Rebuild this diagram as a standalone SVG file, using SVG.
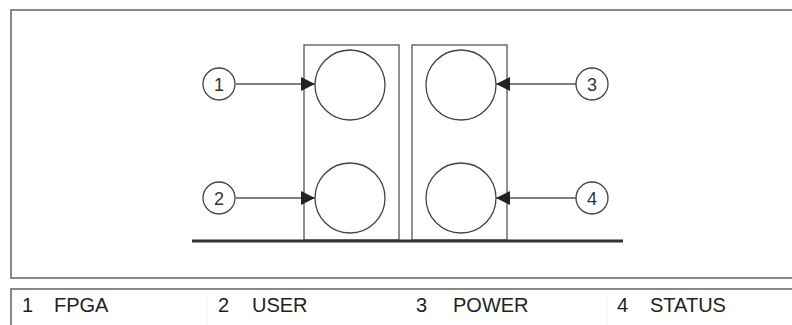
<svg xmlns="http://www.w3.org/2000/svg" width="792" height="325" viewBox="0 0 792 325">
<style>
.frame{fill:none;stroke:#6a6a6a;stroke-width:1.6}
.box{fill:#fff;stroke:#555;stroke-width:1.3}
.led{fill:#fff;stroke:#444;stroke-width:1.3}
.callout{fill:#fff;stroke:#444;stroke-width:1.3}
.conn{stroke:#555;stroke-width:1.3;fill:none}
.num{font-family:"Liberation Sans",Arial,sans-serif;font-size:18px;fill:#333;text-anchor:middle}
.leg{font-family:"Liberation Sans",Arial,sans-serif;font-size:20px;fill:#222}
</style>
<defs>
<marker id="ah" viewBox="0 0 10 10" refX="10" refY="5" markerWidth="19" markerHeight="14" markerUnits="userSpaceOnUse" orient="auto">
<path d="M0,0 L10,5 L0,10 Z" fill="#222"/>
</marker>
</defs>
<rect x="0" y="0" width="792" height="325" fill="#fff"/>
<rect class="frame" x="11" y="10" width="800" height="268"/>
<rect class="frame" x="11" y="289" width="800" height="60"/>
<line x1="207" y1="290" x2="207" y2="325" stroke="#f8f8f8" stroke-width="1"/>
<line x1="607" y1="290" x2="607" y2="325" stroke="#f8f8f8" stroke-width="1"/>
<g id="panel-left">
<rect class="box" x="304" y="45" width="95" height="195"/>
</g>
<g id="panel-right">
<rect class="box" x="412" y="45" width="95" height="195"/>
</g>
<g id="baseline">
<line x1="192" y1="241" x2="623" y2="241" stroke="#333" stroke-width="3"/>
</g>
<g id="led-fpga"><circle class="led" cx="350" cy="85" r="35"/></g>
<g id="led-user"><circle class="led" cx="350" cy="198" r="35"/></g>
<g id="led-power"><circle class="led" cx="461" cy="85" r="35"/></g>
<g id="led-status"><circle class="led" cx="461" cy="198" r="35"/></g>
<g id="connectors">
<line class="conn" x1="236" y1="84" x2="315" y2="84" marker-end="url(#ah)"/>
<line class="conn" x1="236" y1="198" x2="315" y2="198" marker-end="url(#ah)"/>
<line class="conn" x1="576" y1="84" x2="496" y2="84" marker-end="url(#ah)"/>
<line class="conn" x1="576" y1="198" x2="496" y2="198" marker-end="url(#ah)"/>
</g>
<g id="callout-1"><circle class="callout" cx="219" cy="84" r="16"/><text class="num" x="219" y="90.5">1</text></g>
<g id="callout-2"><circle class="callout" cx="219" cy="198" r="16"/><text class="num" x="219" y="204.5">2</text></g>
<g id="callout-3"><circle class="callout" cx="592" cy="84" r="16"/><text class="num" x="592" y="90.5">3</text></g>
<g id="callout-4"><circle class="callout" cx="592" cy="198" r="16"/><text class="num" x="592" y="204.5">4</text></g>
<g id="legend">
<text class="leg" x="22" y="312">1</text>
<text class="leg" x="54" y="312">FPGA</text>
<text class="leg" x="218" y="312">2</text>
<text class="leg" x="252" y="312">USER</text>
<text class="leg" x="416" y="312">3</text>
<text class="leg" x="453" y="312">POWER</text>
<text class="leg" x="617" y="312">4</text>
<text class="leg" x="650" y="312">STATUS</text>
</g>
</svg>
